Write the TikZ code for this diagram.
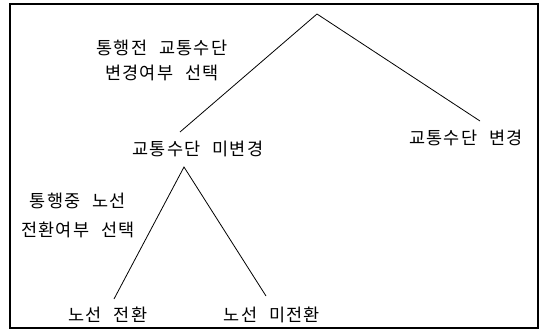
\documentclass[tikz,border=0pt]{standalone}
\usepackage{fontspec}
\newfontfamily\kr[LetterSpace=7,WordSpace=2.3]{Noto Sans CJK KR}
\begin{document}
\begin{tikzpicture}[x=1pt,y=-1pt,
  lbl/.style={font=\kr\fontsize{17.5}{20}\selectfont, inner sep=0pt, align=center},
  conn/.style={line width=0.8pt},
  frame/.style={line width=1.2pt}]
\useasboundingbox (0,0) rectangle (543,332);
\draw[frame] (10,4) rectangle (538,328);
\coordinate (top) at (317,14);
\coordinate (m1) at (180,132);
\coordinate (r1) at (480,121);
\coordinate (m2) at (184,167);
\coordinate (l2) at (114,299);
\coordinate (r2) at (266,296);
\node[lbl] (q1a) at (162,48) {통행전 교통수단};
\node[lbl] (q1b) at (162,73) {변경여부 선택};
\node[lbl] (nochg) at (198,149) {교통수단 미변경};
\node[lbl] (chg) at (466,138) {교통수단 변경};
\node[lbl] (q2a) at (78,201) {통행중 노선};
\node[lbl] (q2b) at (78,230) {전환여부 선택};
\node[lbl] (sw) at (108,315) {노선 전환};
\node[lbl] (nosw) at (272,315) {노선 미전환};
\draw[conn] (m1) -- (top) -- (r1);
\draw[conn] (l2) -- (m2) -- (r2);
\end{tikzpicture}
\end{document}
